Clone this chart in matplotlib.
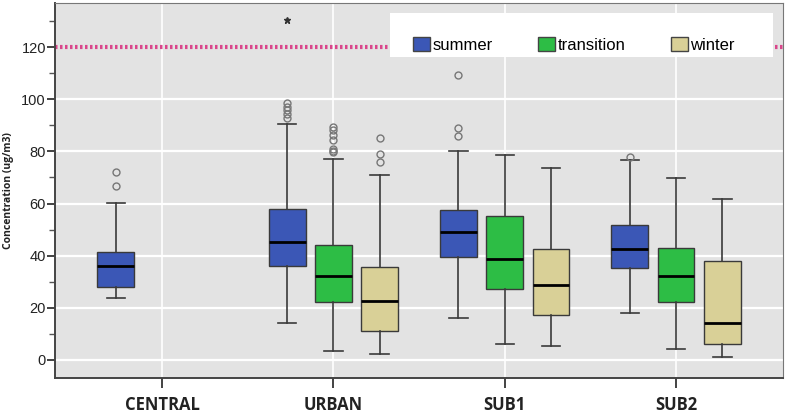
import matplotlib.pyplot as plt
from matplotlib.patches import Patch, Rectangle
from matplotlib.ticker import MultipleLocator

plt.rcParams["font.family"] = ["Liberation Sans", "DejaVu Sans"]

# ============= Data =============#
sites = ["CENTRAL", "URBAN", "SUB1", "SUB2"]
seasons = ["summer", "transition", "winter"]
season_colors = ["#3b57b6", "#2dbd45", "#d9d097"]

# per (site, season): whislo, q1, median, q3, whishi
summer_stats = [
    [23.7, 28.1, 36.2, 41.3, 60.3],
    [14.3, 36.2, 45.1, 57.9, 90.7],
    [16.0, 39.6, 49.1, 57.6, 80.3],
    [18.1, 35.2, 42.7, 51.8, 76.9],
]
transition_stats = [
    None,
    [3.2, 22.1, 32.1, 44.0, 77.1],
    [5.9, 27.3, 38.6, 55.1, 78.7],
    [4.1, 22.1, 32.1, 42.9, 69.9],
]
winter_stats = [
    None,
    [2.2, 11.2, 22.6, 35.5, 71.1],
    [5.4, 17.3, 28.6, 42.7, 73.5],
    [1.2, 6.1, 14.2, 38.0, 61.8],
]

summer_outliers = [
    [72.0, 66.8],
    [98.5, 97.2, 95.9, 94.2, 92.7],
    [109.3, 89.1, 86.0],
    [78.0],
]
transition_outliers = [
    [],
    [89.5, 88.2, 86.3, 84.4, 81.0, 80.3, 79.6],
    [],
    [],
]
winter_outliers = [
    [],
    [85.2, 78.9, 75.8],
    [],
    [],
]
# extreme values (drawn as stars)
extremes = {("URBAN", "summer"): [130.4]}

limit_value = 120

all_stats = [summer_stats, transition_stats, winter_stats]
all_outliers = [summer_outliers, transition_outliers, winter_outliers]
offsets = [-0.27, 0.0, 0.27]
box_w = 0.215

fig = plt.figure(figsize=(7.88, 4.13), dpi=100)
ax = fig.add_axes([0.0698, 0.0847, 0.924, 0.908])
ax.set_facecolor("#e3e3e3")

# gridlines
for v in range(0, 101, 20):
    ax.axhline(v, color="white", lw=1.6, zorder=0)
for i in range(len(sites)):
    ax.axvline(i, color="white", lw=1.2, zorder=0)

for k, season in enumerate(seasons):
    for i, site in enumerate(sites):
        s = all_stats[k][i]
        if s is None:
            continue
        st = dict(whislo=s[0], q1=s[1], med=s[2], q3=s[3], whishi=s[4],
                  fliers=all_outliers[k][i], label=site)
        ax.bxp([st], positions=[i + offsets[k]], widths=box_w,
               patch_artist=True, manage_ticks=False,
               boxprops=dict(facecolor=season_colors[k], edgecolor="#3a3a3a", lw=1.0),
               medianprops=dict(color="black", lw=2.0),
               whiskerprops=dict(color="#3a3a3a", lw=1.2),
               capprops=dict(color="#3a3a3a", lw=1.2),
               capwidths=box_w * 0.5,
               flierprops=dict(marker="o", markersize=5, markerfacecolor="none",
                               markeredgecolor="#777777", markeredgewidth=1.0))
        for v in extremes.get((site, season), []):
            ax.plot(i + offsets[k], v, marker="*", color="#333333",
                    markersize=5, zorder=4)

ax.axhline(limit_value, color="#d9468b", lw=3, ls=(0, (0.6, 0.6)), zorder=1)

ax.set_xlim(-0.625, 3.625)
ax.set_ylim(-7, 137)
ax.set_xticks(range(len(sites)))
ax.set_xticklabels(sites, fontsize=12, fontweight="bold", color="#222222",
                   family="Open Sans")
ax.yaxis.set_major_locator(MultipleLocator(20))
ax.yaxis.set_minor_locator(MultipleLocator(10))
ax.set_yticks(range(0, 121, 20))
ax.tick_params(axis="y", labelsize=10.5, colors="#222222", length=5.5, width=1.2, pad=1)
ax.tick_params(axis="y", which="minor", length=4, width=1.0, color="#555555")
ax.tick_params(axis="x", length=7, width=1.2, pad=6, colors="#222222")
ax.set_ylabel("Concentration (ug/m3)", fontsize=7.5, fontweight="bold",
              color="#222222", family="Open Sans")
ax.yaxis.set_label_coords(-0.057, 0.5)
for sp in ax.spines.values():
    sp.set_color("#777777")
ax.spines["left"].set_color("#444444")
ax.spines["bottom"].set_color("#444444")
ax.spines["left"].set_linewidth(1.4)
ax.spines["bottom"].set_linewidth(1.4)

# white legend panel
ax.add_patch(Rectangle((0.460, 0.856), 0.526, 0.117, transform=ax.transAxes,
                       facecolor="white", edgecolor="none", zorder=5))
handles = [Patch(facecolor=c, edgecolor="#444444") for c in season_colors]
leg = ax.legend(handles, seasons, loc="center left", bbox_to_anchor=(0.492, 0.888),
                ncol=3, fontsize=12, frameon=False,
                handlelength=1.0, handleheight=0.95, handletextpad=0.15,
                columnspacing=2.75, borderpad=0, borderaxespad=0)
leg.set_zorder(6)

fig.savefig("out.png", dpi=100)
